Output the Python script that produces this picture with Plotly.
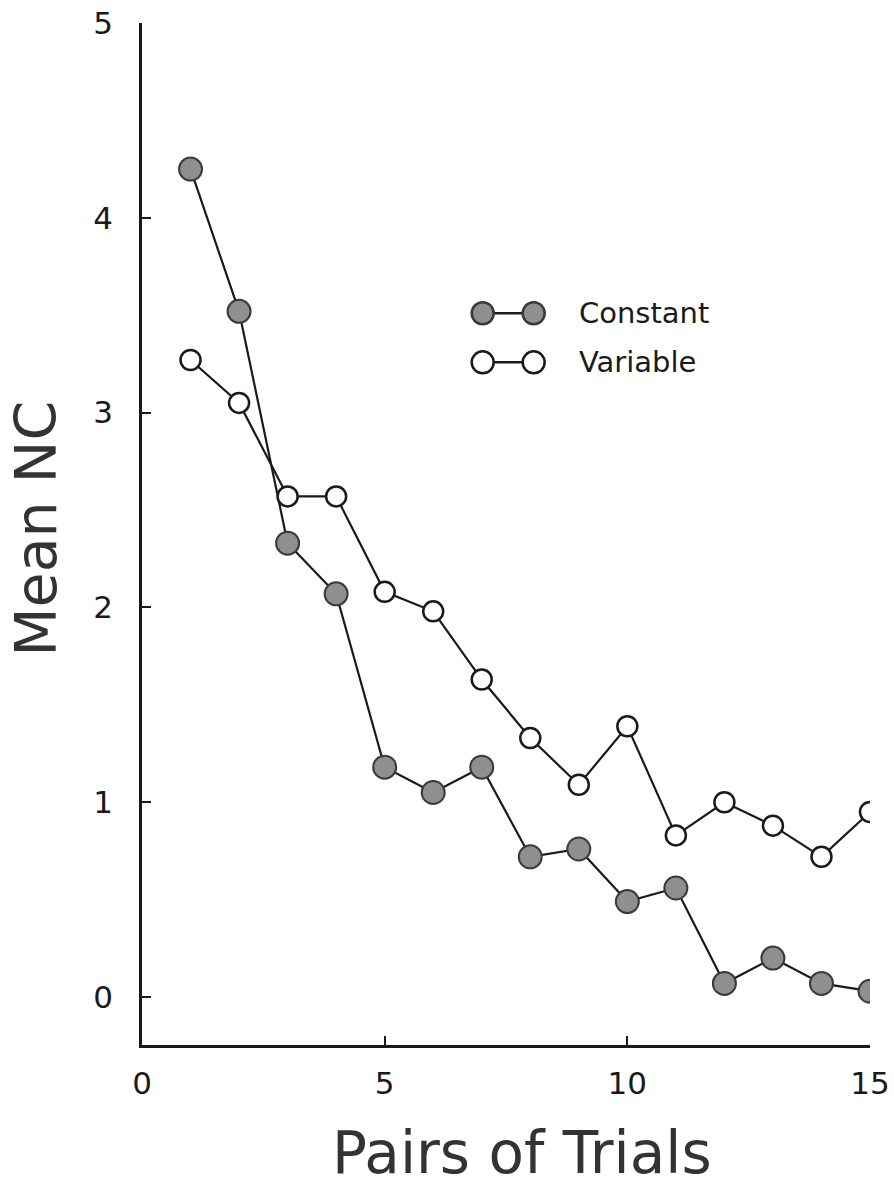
import plotly.graph_objects as go

# Mean NC per pair of trials for the two conditions
pairs = list(range(1, 16))
constant = [4.25, 3.52, 2.33, 2.07, 1.18, 1.05, 1.18, 0.72, 0.76, 0.49, 0.56, 0.07, 0.20, 0.07, 0.03]
variable = [3.27, 3.05, 2.57, 2.57, 2.08, 1.98, 1.63, 1.33, 1.09, 1.39, 0.83, 1.00, 0.88, 0.72, 0.95]

x_ticks = [0, 5, 10, 15]
y_ticks = [0, 1, 2, 3, 4, 5]

fill_gray = "#8f8f8f"
ink = "#1a1a1a"
title_ink = "#333333"
font_family = "DejaVu Sans, Open Sans, sans-serif"

fig = go.Figure()

fig.add_trace(go.Scatter(
    x=pairs, y=constant, mode="lines+markers", name="Constant",
    line=dict(color=ink, width=2.2),
    marker=dict(size=23, color=fill_gray, line=dict(color="#3a3a3a", width=2)),
    showlegend=False,
))
fig.add_trace(go.Scatter(
    x=pairs, y=variable, mode="lines+markers", name="Variable",
    line=dict(color=ink, width=2.2),
    marker=dict(size=20, color="white", line=dict(color=ink, width=2.5)),
    showlegend=False,
))

# Key: two circles joined by a short line, then the label
def key_row(py, filled, label):
    x1, x2 = 0.468, 0.538
    fig.add_shape(type="line", xref="paper", yref="paper",
                  x0=x1, x1=x2, y0=py, y1=py, line=dict(color=ink, width=2.5))
    for px in (x1, x2):
        fig.add_shape(type="circle", xref="paper", yref="paper",
                      xsizemode="pixel", ysizemode="pixel",
                      xanchor=px, yanchor=py,
                      x0=-11, x1=11, y0=-11, y1=11,
                      fillcolor=fill_gray if filled else "white",
                      line=dict(color="#3a3a3a" if filled else ink, width=2.5))
    fig.add_annotation(xref="paper", yref="paper", x=0.597, y=py,
                       xanchor="left", yanchor="middle", showarrow=False,
                       text=label, font=dict(family=font_family, size=29, color=ink))

key_row(0.716, True, "Constant")
key_row(0.668, False, "Variable")

# Axis titles
fig.add_annotation(xref="paper", yref="paper", x=-0.146, y=0.505,
                   xanchor="center", yanchor="middle", showarrow=False,
                   textangle=-90, text="Mean NC",
                   font=dict(family=font_family, size=57, color=title_ink))
fig.add_annotation(xref="paper", yref="paper", x=0.522, y=-0.1055,
                   xanchor="center", yanchor="middle", showarrow=False,
                   text="Pairs of Trials",
                   font=dict(family=font_family, size=58, color=title_ink))

fig.update_xaxes(
    range=[0, 15], tickvals=x_ticks,
    ticks="inside", ticklen=9, tickwidth=2, tickcolor=ink,
    showline=True, linecolor=ink, linewidth=2.5,
    showgrid=False, zeroline=False, automargin=False,
    ticklabelstandoff=9,
    tickfont=dict(family=font_family, size=31, color=ink),
)
fig.update_yaxes(
    range=[-0.246, 5], tickvals=y_ticks,
    ticks="inside", ticklen=9, tickwidth=2, tickcolor=ink,
    showline=True, linecolor=ink, linewidth=2.5,
    showgrid=False, zeroline=False, automargin=False,
    ticklabelstandoff=20,
    tickfont=dict(family=font_family, size=31, color=ink),
)

fig.update_layout(
    width=894, height=1189,
    margin=dict(l=142, r=24, t=23, b=144),
    plot_bgcolor="white", paper_bgcolor="white",
)

fig.write_html("out.html")
